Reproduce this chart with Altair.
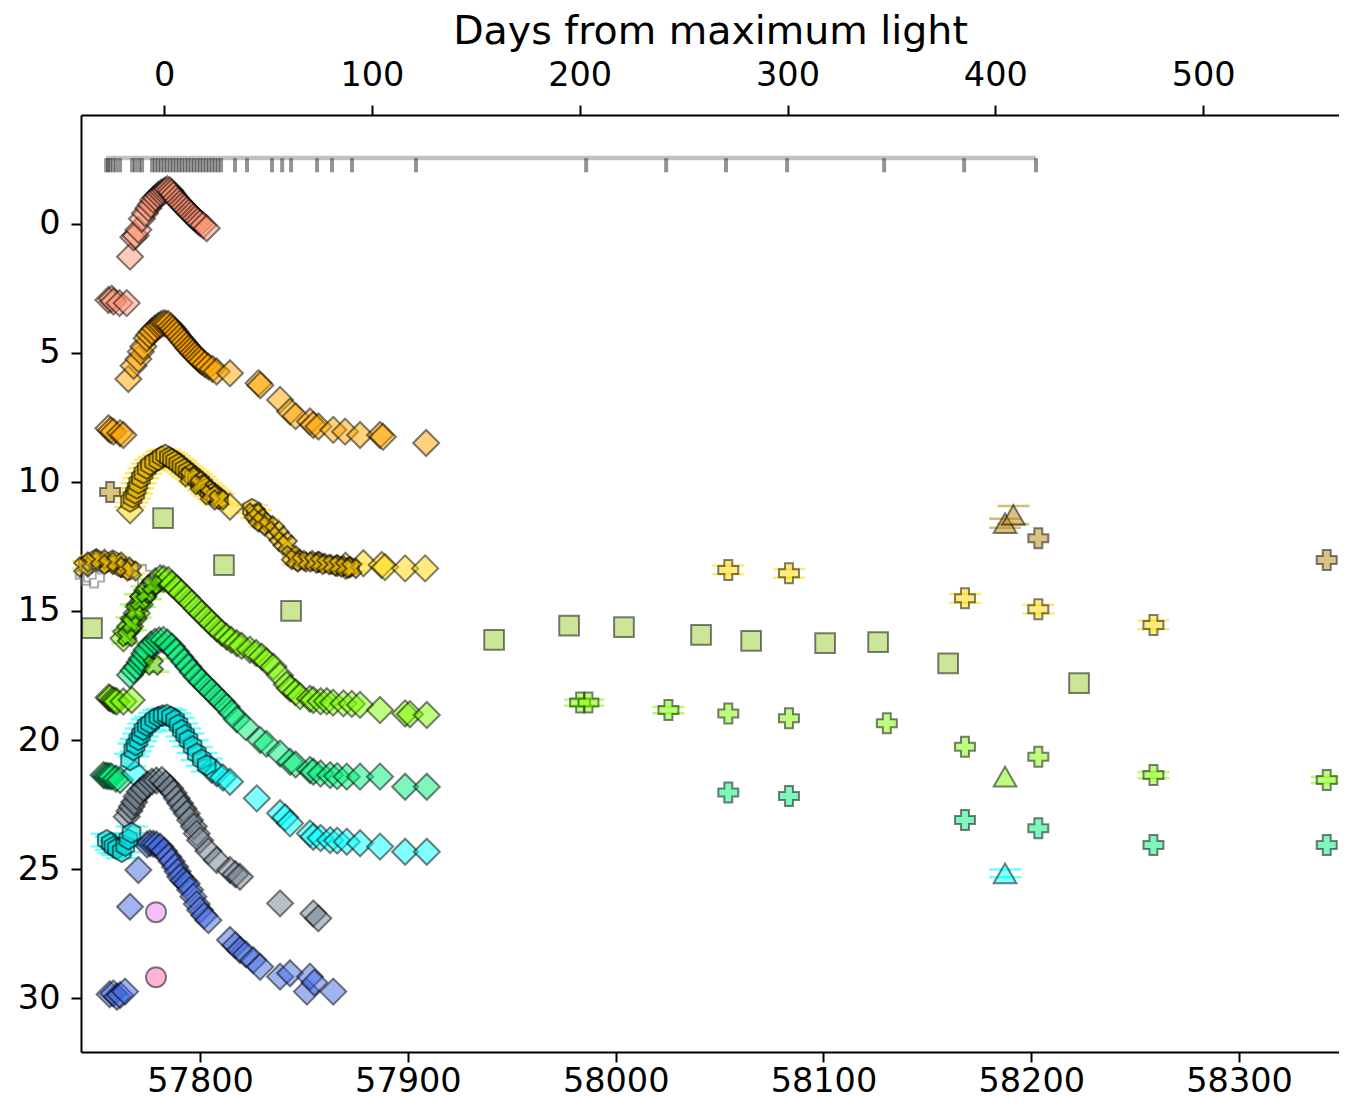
import altair as alt
import pandas as pd

# ------------------------------------------------------------------ data
T0 = 57782.7                      # MJD of maximum light (top axis zero)
X_DOMAIN = [57742.7, 58348.1]
Y_DOMAIN = [-4.22, 32.09]
X_TICKS = [57800, 57900, 58000, 58100, 58200, 58300]
DAY_TICKS = [0, 100, 200, 300, 400, 500]
Y_TICKS = [0, 5, 10, 15, 20, 25, 30]

# spectral epochs (top tick row)
spec_mjd = [57754.8, 57755.7, 57756.7, 57758.1, 57759.6, 57761.5, 57767.3, 57768.7, 57770.6,
            57772.1, 57776.9, 57778.3, 57779.8, 57781.2, 57782.7, 57784.1, 57785.6, 57787.0,
            57788.5, 57789.9, 57791.3, 57792.8, 57794.2, 57795.7, 57797.1, 57798.6, 57800.0,
            57801.4, 57802.9, 57804.3, 57805.8, 57807.2, 57808.7, 57810.1, 57816.8, 57822.6,
            57834.6, 57839.5, 57843.8, 57856.3, 57863.5, 57873.1, 57903.9, 57985.8, 58024.3,
            58053.1, 58082.5, 58129.2, 58167.7, 58202.3]
spec_line_mag = -2.55
spec_tick_end = -2.0

# salmon diamonds
salmon_mjd = [57755.9, 57757.5, 57758.3, 57761.2, 57764.7,
              57766.3, 57767.9, 57769.0, 57770.3, 57772.0, 57773.5, 57775.1, 57776.3, 57777.5,
              57778.7, 57779.9, 57781.1, 57782.3, 57783.3, 57784.3, 57785.5, 57786.3, 57787.2,
              57788.3, 57789.4, 57790.4, 57791.5, 57792.5, 57793.6, 57794.7, 57795.7, 57796.8,
              57797.8, 57798.9, 57800.0, 57801.5, 57803.2]
salmon_mag = [2.95, 2.90, 3.01, 3.07, 3.07,
              1.27, 0.52, 0.45, 0.23, -0.20, -0.41, -0.61, -0.75, -0.93,
              -1.02, -1.12, -1.20, -1.25, -1.30, -1.34, -1.30, -1.22, -1.12,
              -1.00, -0.90, -0.80, -0.72, -0.63, -0.54, -0.45, -0.37, -0.28,
              -0.20, -0.11, -0.03, 0.05, 0.17]

# orange diamonds
orange_mjd = [57755.9, 57757.0, 57758.3, 57761.5, 57763.1,
              57765.5, 57768.0, 57770.3, 57771.5, 57772.7, 57774.3, 57775.5, 57776.8, 57778.3,
              57779.9, 57781.1, 57782.3, 57783.5, 57784.7, 57786.0, 57787.0, 57788.0, 57789.0,
              57790.1, 57791.2, 57792.3, 57793.4, 57794.4, 57795.5, 57796.5, 57797.6, 57798.7,
              57799.7, 57800.8, 57802.4, 57804.0, 57806.0, 57808.0, 57814.4, 57828.1, 57829.0,
              57838.5, 57843.3, 57846.0, 57852.9, 57854.5, 57857.0, 57864.1, 57869.8, 57877.0,
              57886.6, 57888.0, 57908.8]
orange_mag = [7.92, 8.00, 8.05, 8.11, 8.18,
              6.01, 5.50, 5.24, 4.95, 4.75, 4.43, 4.30, 4.17, 4.05,
              3.95, 3.90, 3.85, 3.86, 3.88, 3.98, 4.07, 4.17, 4.28,
              4.39, 4.50, 4.60, 4.71, 4.82, 4.90, 5.00, 5.08, 5.17,
              5.26, 5.34, 5.44, 5.53, 5.62, 5.72, 5.79, 6.17, 6.25,
              6.82, 7.27, 7.45, 7.66, 7.79, 7.85, 7.98, 8.05, 8.18,
              8.18, 8.25, 8.49]

# yellow (light gold) diamonds
yellow_d_mjd = [57766.3, 57814.4, 57870.0, 57878.6, 57887.4, 57889.0, 57898.7, 57908.3]
yellow_d_mag = [11.10, 10.96, 13.25, 13.15, 13.22, 13.30, 13.35, 13.35]

# gold hexagons
gold_h_mjd = [57746.0, 57750.0, 57754.0, 57758.0, 57762.0, 57766.0,
              57766.3, 57767.5, 57768.7, 57769.5, 57770.3, 57771.5, 57772.7, 57774.3, 57775.9,
              57777.9, 57779.9, 57781.5, 57783.2, 57785.0, 57786.5, 57788.0, 57789.5, 57791.0,
              57792.5, 57794.0, 57795.5, 57797.0, 57798.5, 57800.0, 57801.5, 57803.0, 57804.5,
              57806.0, 57807.5, 57809.0,
              57825.0, 57827.0, 57831.0, 57847.0, 57857.0, 57866.0, 57872.0]
gold_h_mag = [13.20, 13.00, 13.15, 13.05, 13.30, 13.40,
              10.76, 10.60, 10.44, 10.25, 10.05, 9.85, 9.66, 9.48, 9.34,
              9.22, 9.15, 9.02, 8.95, 9.05, 9.12, 9.20, 9.30, 9.40,
              9.50, 9.60, 9.70, 9.80, 9.90, 10.00, 10.12, 10.25, 10.35,
              10.45, 10.55, 10.65,
              11.05, 11.25, 11.60, 13.05, 13.10, 13.25, 13.30]
gold_h_err = [0.15] * 6 + [0.20] * 30 + [0.15] * 7

# gold X markers
gold_x_mjd = [57744.0, 57748.0, 57752.0, 57756.0, 57760.0, 57764.0, 57767.0,
              57795.0, 57800.0, 57805.0, 57809.0,
              57826.0, 57828.0, 57830.0, 57833.0, 57836.0, 57838.0, 57840.0, 57842.0, 57844.0,
              57846.0, 57849.0, 57852.0, 57855.0, 57858.0, 57861.0, 57864.0, 57867.0, 57870.0,
              57873.0]
gold_x_mag = [13.30, 13.10, 13.00, 13.20, 13.10, 13.30, 13.45,
              9.80, 10.10, 10.50, 10.70,
              11.20, 11.40, 11.55, 11.70, 11.90, 12.10, 12.30, 12.45, 12.85,
              13.00, 13.10, 13.05, 13.10, 13.15, 13.20, 13.20, 13.25, 13.30,
              13.35]

# grey open markers (early epochs)
grey_open_mjd = [57745.0, 57749.0, 57772.0]
grey_open_mag = [13.60, 13.70, 13.60]

# tan crosses and triangles
tan_p_mjd = [57756.7, 58203.4, 58342.2]
tan_p_mag = [10.39, 12.18, 13.02]
tan_t_mjd = [58187.4, 58191.4]
tan_t_mag = [11.60, 11.28]
tan_t_err = [0.17, 0.35]

# gold crosses
gold_p_mjd = [58054.2, 58083.4, 58168.1, 58203.4, 58258.8]
gold_p_mag = [13.41, 13.54, 14.51, 14.93, 15.54]
gold_p_err = [0.17, 0.17, 0.17, 0.17, 0.17]

# yellow-green squares
sq_mjd = [57748.0, 57782.2, 57811.5, 57843.8, 57941.5, 57977.6, 58004.0, 58041.1, 58065.2,
          58100.8, 58126.3, 58160.0, 58223.0]
sq_mag = [15.66, 11.40, 13.22, 15.00, 16.12, 15.57, 15.63, 15.93, 16.16,
          16.25, 16.21, 17.03, 17.80]

# lawn-green diamonds
green_mjd = [57756.0, 57756.7, 57758.0, 57759.0, 57759.9, 57763.1, 57767.1,
             57763.1, 57764.5, 57766.3, 57768.0, 57769.5, 57771.0, 57772.7, 57774.5, 57776.8,
             57778.5, 57780.8, 57782.5, 57784.7, 57786.5, 57788.8, 57791.0, 57793.6, 57796.0,
             57798.4, 57800.8, 57803.2, 57805.6, 57808.0, 57810.4, 57812.8, 57815.0, 57817.7,
             57820.0, 57824.0, 57827.0, 57829.7, 57832.0, 57835.3, 57838.5, 57841.7, 57843.3,
             57846.0, 57848.1, 57852.9, 57854.5, 57858.0, 57861.0, 57864.0, 57869.0, 57873.0,
             57877.0, 57886.6, 57898.7, 57901.0, 57909.1]
green_mag = [18.35, 18.38, 18.45, 18.48, 18.51, 18.51, 18.45,
             16.06, 15.80, 15.60, 15.30, 15.09, 14.75, 14.45, 14.20, 14.00,
             13.85, 13.73, 13.75, 13.80, 13.95, 14.12, 14.30, 14.50, 14.70,
             14.90, 15.10, 15.28, 15.48, 15.67, 15.85, 16.00, 16.12, 16.25,
             16.35, 16.50, 16.63, 16.77, 16.95, 17.16, 17.50, 17.85, 18.00,
             18.15, 18.30, 18.40, 18.45, 18.50, 18.50, 18.55, 18.58, 18.60,
             18.64, 18.84, 18.97, 19.00, 19.03]

# green X markers
green_x_mjd = [57765.0, 57767.0, 57769.0, 57771.0, 57774.0, 57777.0, 57777.5]
green_x_mag = [16.00, 15.50, 15.00, 14.60, 14.30, 14.00, 17.10]
green_x_err = [0.25, 0.25, 0.25, 0.25, 0.25, 0.25, 0.25]

# green crosses + triangle
green_p_mjd = [57982.9, 57986.9, 58025.4, 58054.2, 58083.4, 58130.5, 58168.1, 58203.4,
               58258.8, 58342.2]
green_p_mag = [18.55, 18.55, 18.84, 18.97, 19.16, 19.35, 20.26, 20.65, 21.36, 21.55]
green_p_err = [0.12, 0.12, 0.12, 0.0, 0.0, 0.0, 0.0, 0.0, 0.12, 0.12]
green_t_mjd = [58187.4]
green_t_mag = [21.42]

# spring-green diamonds
spring_mjd = [57753.5, 57754.5, 57755.5, 57756.5, 57757.5, 57759.5, 57761.5,
              57766.3, 57768.0, 57769.5, 57771.0, 57772.0, 57773.2, 57774.3, 57776.3, 57778.3,
              57780.3, 57782.3, 57784.3, 57786.4, 57788.4, 57790.4, 57792.4, 57794.4, 57796.4,
              57798.4, 57800.8, 57803.2, 57805.6, 57808.0, 57810.4, 57812.8, 57815.2, 57817.7,
              57822.0, 57828.9, 57832.0, 57838.5, 57843.3, 57846.0, 57852.9, 57854.5, 57858.0,
              57862.6, 57866.0, 57870.6, 57877.0, 57886.6, 57898.7, 57909.1]
spring_mag = [21.36, 21.38, 21.40, 21.40, 21.42, 21.50, 21.55,
              17.48, 17.30, 17.16, 16.98, 16.84, 16.65, 16.50, 16.30, 16.19,
              16.14, 16.12, 16.22, 16.38, 16.57, 16.77, 16.97, 17.16, 17.36,
              17.55, 17.74, 17.93, 18.13, 18.32, 18.52, 18.71, 18.95, 19.20,
              19.50, 20.00, 20.15, 20.52, 20.84, 20.95, 21.16, 21.23, 21.30,
              21.36, 21.40, 21.42, 21.42, 21.42, 21.81, 21.81]

# spring-green crosses
spring_p_mjd = [58054.2, 58083.4, 58168.1, 58203.4, 58258.8, 58342.2]
spring_p_mag = [22.03, 22.17, 23.10, 23.42, 24.07, 24.07]

# cyan hexagons
cyan_h_mjd = [57755.1, 57757.0, 57758.3, 57760.0, 57762.3, 57764.0, 57765.5, 57767.0,
              57766.3, 57767.9, 57769.0, 57770.3, 57771.5, 57772.7, 57774.3, 57775.9, 57777.9,
              57779.9, 57782.0, 57784.0, 57786.0, 57788.0, 57789.6, 57791.2, 57792.8, 57794.4,
              57796.4, 57798.4, 57800.8, 57803.2]
cyan_h_mag = [23.88, 24.00, 24.13, 24.20, 24.33, 24.10, 23.85, 23.60,
              20.78, 20.39, 20.20, 20.00, 19.80, 19.61, 19.45, 19.35, 19.20,
              19.10, 19.05, 19.03, 19.10, 19.22, 19.40, 19.61, 19.80, 20.00,
              20.25, 20.52, 20.75, 20.97]
cyan_h_err = [0.25] * 30

# cyan diamonds + triangle
cyan_d_mjd = [57768.7, 57805.6, 57808.0, 57811.0, 57814.4, 57827.3, 57838.5, 57841.0, 57843.3,
              57852.9, 57854.5, 57858.0, 57862.6, 57866.0, 57870.6, 57877.0, 57886.6, 57898.7,
              57909.1]
cyan_d_mag = [21.29, 21.15, 21.29, 21.45, 21.62, 22.26, 22.84, 23.00, 23.23,
              23.62, 23.75, 23.80, 23.88, 23.90, 23.94, 24.00, 24.13, 24.33,
              24.33]
cyan_t_mjd = [58187.4]
cyan_t_mag = [25.17]
cyan_t_err = [0.15]

# slate-grey diamonds
grey_mjd = [57764.7, 57766.0, 57767.1, 57768.3, 57769.5, 57771.0, 57772.7, 57774.7, 57776.8,
            57779.0, 57781.6, 57783.5, 57785.6, 57787.2, 57788.8, 57790.4, 57792.0, 57793.6,
            57795.2, 57797.0, 57798.4, 57800.0, 57804.0, 57808.0, 57814.4, 57817.0, 57819.2,
            57838.5, 57854.5, 57856.9]
grey_mag = [22.97, 22.75, 22.58, 22.40, 22.19, 22.00, 21.87, 21.72, 21.62,
            21.57, 21.55, 21.70, 21.87, 22.05, 22.26, 22.45, 22.65, 22.85,
            23.10, 23.35, 23.62, 23.88, 24.30, 24.65, 25.04, 25.20, 25.30,
            26.33, 26.72, 26.91]

# royal-blue diamonds
blue_mjd = [57756.5, 57758.3, 57760.0, 57761.5, 57763.9, 57766.3, 57770.3,
            57774.5, 57775.9, 57777.5, 57779.0, 57780.8, 57782.7, 57784.7, 57786.3, 57788.0,
            57789.2, 57790.4, 57792.0, 57793.6, 57795.2, 57796.8, 57798.4, 57800.0, 57802.0,
            57804.0, 57814.4, 57817.0, 57819.2, 57822.0, 57825.6, 57828.9, 57838.5, 57843.3,
            57851.4, 57852.9, 57855.0, 57864.1]
blue_mag = [29.85, 29.82, 29.95, 29.88, 29.75, 26.46, 25.04,
            24.05, 24.00, 24.02, 24.05, 24.13, 24.30, 24.52, 24.70, 24.91,
            25.10, 25.30, 25.45, 25.56, 25.80, 26.07, 26.35, 26.59, 26.80,
            26.98, 27.75, 27.95, 28.14, 28.30, 28.53, 28.79, 29.17, 29.04,
            29.75, 29.17, 29.40, 29.75]

# circles
violet_mjd = [57778.8]
violet_mag = [26.67]
pink_mjd = [57778.8]
pink_mag = [29.19]

COLOR_KEYS = ["salmon", "orange", "gold", "golddark", "tan", "yellowgreen", "lawngreen",
              "greenx", "springgreen", "cyan", "cyandark", "slategray", "royalblue",
              "violet", "hotpink", "grey"]
COLOR_VALUES = ["#ff9575", "#ffa500", "#ffd700", "#e8b800", "#b8860b", "#9acd32", "#7cfc00",
                "#5fd400", "#00f07a", "#00ffff", "#00e0e0", "#708090", "#4169e1",
                "#ee82ee", "#ff69b4", "#777777"]

# ------------------------------------------------------------------ frames
def frame(mjds, mags, key):
    return pd.DataFrame({"mjd": mjds, "mag": mags, "key": [key] * len(mjds)})


def caps(mjds, mags, errs, key):
    rows = []
    for m, g, e in zip(mjds, mags, errs):
        if e > 0:
            rows.append({"mjd": m, "mag": g - e, "key": key})
            rows.append({"mjd": m, "mag": g + e, "key": key})
    return pd.DataFrame(rows)


diamonds = pd.concat([
    frame(salmon_mjd, salmon_mag, "salmon"),
    frame(orange_mjd, orange_mag, "orange"),
    frame(yellow_d_mjd, yellow_d_mag, "gold"),
    frame(green_mjd, green_mag, "lawngreen"),
    frame(spring_mjd, spring_mag, "springgreen"),
    frame(cyan_d_mjd, cyan_d_mag, "cyan"),
    frame(grey_mjd, grey_mag, "slategray"),
    frame(blue_mjd, blue_mag, "royalblue"),
])
hexes = pd.concat([
    frame(gold_h_mjd, gold_h_mag, "golddark"),
    frame(cyan_h_mjd, cyan_h_mag, "cyandark"),
])
xs = pd.concat([
    frame(gold_x_mjd, gold_x_mag, "golddark"),
    frame(green_x_mjd, green_x_mag, "greenx"),
])
pluses = pd.concat([
    frame(tan_p_mjd, tan_p_mag, "tan"),
    frame(gold_p_mjd, gold_p_mag, "gold"),
    frame(green_p_mjd, green_p_mag, "lawngreen"),
    frame(spring_p_mjd, spring_p_mag, "springgreen"),
])
tris = pd.concat([
    frame(tan_t_mjd, tan_t_mag, "tan"),
    frame(green_t_mjd, green_t_mag, "lawngreen"),
    frame(cyan_t_mjd, cyan_t_mag, "cyan"),
])
squares = frame(sq_mjd, sq_mag, "yellowgreen")
circles = pd.concat([frame(violet_mjd, violet_mag, "violet"),
                     frame(pink_mjd, pink_mag, "hotpink")])
open_pl = frame(grey_open_mjd, grey_open_mag, "grey")
capdf = pd.concat([
    caps(gold_h_mjd, gold_h_mag, gold_h_err, "gold"),
    caps(cyan_h_mjd, cyan_h_mag, cyan_h_err, "cyan"),
    caps(green_x_mjd, green_x_mag, green_x_err, "lawngreen"),
    caps(gold_p_mjd, gold_p_mag, gold_p_err, "gold"),
    caps(green_p_mjd, green_p_mag, green_p_err, "lawngreen"),
    caps(tan_t_mjd, tan_t_mag, tan_t_err, "tan"),
    caps(cyan_t_mjd, cyan_t_mag, cyan_t_err, "cyan"),
])
spec_df = pd.DataFrame({"mjd": spec_mjd, "y1": [spec_line_mag] * len(spec_mjd),
                        "y2": [spec_tick_end] * len(spec_mjd)})
spec_line_df = pd.DataFrame({"mjd": [min(spec_mjd)], "mjd2": [max(spec_mjd)],
                             "y1": [spec_line_mag]})
days_df = pd.DataFrame({"day": [m - T0 for m in spec_mjd]})

# ------------------------------------------------------------------ chart
FONT = "DejaVu Sans"
xenc = alt.X("mjd:Q", scale=alt.Scale(domain=X_DOMAIN, nice=False, zero=False),
             axis=alt.Axis(orient="bottom", values=X_TICKS, format="d", title=None,
                           labelFlush=False, labelPadding=3))
yenc = alt.Y("mag:Q", scale=alt.Scale(domain=Y_DOMAIN, reverse=True, nice=False, zero=False),
             axis=alt.Axis(values=Y_TICKS, title=None, labelFlush=False, labelPadding=11))
cenc = alt.Color("key:N", scale=alt.Scale(domain=COLOR_KEYS, range=COLOR_VALUES), legend=None)

HEX = "M0,-1L0.866,-0.5L0.866,0.5L0,1L-0.866,0.5L-0.866,-0.5Z"
pt = dict(filled=True, opacity=1, fillOpacity=0.5, stroke="black", strokeOpacity=0.5,
          strokeWidth=2)

spec_line = alt.Chart(spec_line_df).mark_rule(color="#c0c0c0", strokeWidth=4.5).encode(
    x=alt.X("mjd:Q", scale=alt.Scale(domain=X_DOMAIN, nice=False, zero=False)), x2="mjd2:Q",
    y=alt.Y("y1:Q", scale=alt.Scale(domain=Y_DOMAIN, reverse=True, nice=False, zero=False)))
spec_ticks = alt.Chart(spec_df).mark_rule(color="#3a3a3a", strokeWidth=4, opacity=0.55).encode(
    x="mjd:Q", y="y1:Q", y2="y2:Q")

cap_layer = alt.Chart(capdf).mark_tick(orient="horizontal", size=32, thickness=2.5,
                                       opacity=0.55).encode(x=xenc, y=yenc, color=cenc)

sq_layer = alt.Chart(squares).mark_point(shape="square", size=390, **pt).encode(
    x=xenc, y=yenc, color=cenc)
dia_layer = alt.Chart(diamonds).mark_point(shape="diamond", size=680, **pt).encode(
    x=xenc, y=yenc, color=cenc)
hex_layer = alt.Chart(hexes).mark_point(shape=HEX, size=420, filled=True, opacity=1,
                                        fillOpacity=0.6, stroke="black", strokeOpacity=0.55,
                                        strokeWidth=2).encode(x=xenc, y=yenc, color=cenc)
x_layer = alt.Chart(xs).mark_point(shape="cross", angle=45, size=380, filled=True, opacity=1,
                                   fillOpacity=0.6, stroke="black", strokeOpacity=0.55,
                                   strokeWidth=2).encode(x=xenc, y=yenc, color=cenc)
plus_layer = alt.Chart(pluses).mark_point(shape="cross", size=400, **pt).encode(
    x=xenc, y=yenc, color=cenc)
open_layer = alt.Chart(open_pl).mark_point(shape="cross", size=400, filled=False, opacity=0.6,
                                           strokeWidth=2).encode(x=xenc, y=yenc, color=cenc)
tri_layer = alt.Chart(tris).mark_point(shape="triangle-up", size=520, **pt).encode(
    x=xenc, y=yenc, color=cenc)
circ_layer = alt.Chart(circles).mark_point(shape="circle", size=400, **pt).encode(
    x=xenc, y=yenc, color=cenc)

main = alt.layer(spec_line, spec_ticks, cap_layer, sq_layer, dia_layer, hex_layer, x_layer,
                 plus_layer, open_layer, tri_layer, circ_layer)

top = alt.Chart(days_df).mark_point(opacity=0).encode(
    x=alt.X("day:Q",
            scale=alt.Scale(domain=[X_DOMAIN[0] - T0, X_DOMAIN[1] - T0], nice=False, zero=False),
            axis=alt.Axis(orient="top", values=DAY_TICKS, format="d",
                          title="Days from maximum light", labelFlush=False, labelPadding=12.5,
                          titlePadding=7)))

chart = alt.layer(main, top).resolve_scale(x="independent").properties(
    width=1258, height=937,
    autosize=alt.AutoSizeParams(type="none"),
    padding={"left": 73, "top": 107, "right": 0, "bottom": 47},
).configure_view(stroke=None).configure_axis(
    domainColor="black", domainWidth=2, tickColor="black", tickWidth=2, tickSize=10,
    labelFont=FONT, labelFontSize=33.5, labelColor="black",
    titleFont=FONT, titleFontSize=39.5, titleFontWeight="normal", titleColor="black",
    grid=False,
)

chart.save("out.html", embed_options={"renderer": "svg", "actions": False})
